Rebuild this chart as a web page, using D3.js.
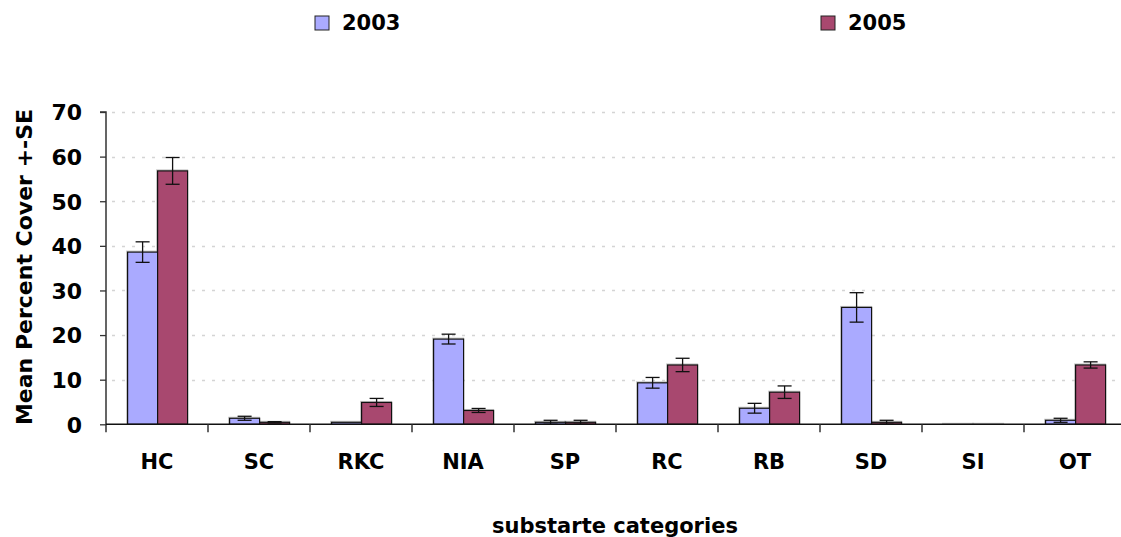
<!DOCTYPE html>
<html>
<head>
<meta charset="utf-8">
<script src="https://cdn.jsdelivr.net/npm/d3@7"></script>
<style>
  html, body { margin: 0; padding: 0; background: #fff; }
  svg { display: block; }
  text { font-family: "DejaVu Sans", sans-serif; font-weight: bold; fill: #000; }
</style>
</head>
<body>
<svg id="chart" width="1121" height="537"></svg>
<script>
// Substrate categories and mean percent cover (+/- SE) per survey year
const categories = ["HC", "SC", "RKC", "NIA", "SP", "RC", "RB", "SD", "SI", "OT"];
const years = ["2003", "2005"];
const mean2003 = [38.6, 1.35, 0.45, 19.1, 0.45, 9.3, 3.6, 26.2, 0, 0.9];
const se2003   = [2.3, 0.45, 0, 1.1, 0.45, 1.2, 1.1, 3.3, 0, 0.45];
const mean2005 = [56.8, 0.45, 4.9, 3.1, 0.45, 13.3, 7.2, 0.45, 0, 13.3];
const se2005   = [3.0, 0.15, 0.9, 0.45, 0.45, 1.5, 1.4, 0.45, 0, 0.7];
const yTicks = [0, 10, 20, 30, 40, 50, 60, 70];
const colors = { "2003": "#AAAAFF", "2005": "#A8486F" };

const svg = d3.select("#chart");

const plot = { left: 106, right: 1126, top: 112, bottom: 424.3 };

const x = d3.scaleBand().domain(categories).range([plot.left, plot.right]).padding(0);
const xInner = d3.scaleBand().domain(years).range([21.6, 81.6]).padding(0);
const y = d3.scaleLinear().domain([0, 70]).range([plot.bottom, plot.top]);

// dotted horizontal gridlines
svg.append("g")
  .selectAll("line")
  .data(yTicks.filter(d => d > 0))
  .join("line")
  .attr("x1", plot.left + 6)
  .attr("x2", 1121)
  .attr("y1", d => Math.round(y(d)) + 0.5)
  .attr("y2", d => Math.round(y(d)) + 0.5)
  .attr("stroke", "#d4d4d4")
  .attr("stroke-width", 1.3)
  .attr("stroke-dasharray", "3,7");

// table of bars built from the arrays
const rows = [];
categories.forEach((c, i) => {
  rows.push({ cat: c, year: "2003", v: mean2003[i], se: se2003[i] });
  rows.push({ cat: c, year: "2005", v: mean2005[i], se: se2005[i] });
});

const bars = svg.append("g");
// soft drop shadow behind each bar
bars.selectAll("rect.shadow")
  .data(rows)
  .join("rect")
  .attr("class", "shadow")
  .attr("x", d => x(d.cat) + xInner(d.year) - 1)
  .attr("y", d => y(d.v) - 1)
  .attr("width", xInner.bandwidth() + 1)
  .attr("height", d => plot.bottom - y(d.v) + 1)
  .attr("fill", "none")
  .attr("stroke", "#999")
  .attr("stroke-width", 1)
  .attr("opacity", 0.6);

bars.selectAll("rect.bar")
  .data(rows)
  .join("rect")
  .attr("class", "bar")
  .attr("x", d => x(d.cat) + xInner(d.year))
  .attr("y", d => y(d.v))
  .attr("width", xInner.bandwidth())
  .attr("height", d => plot.bottom - y(d.v))
  .attr("fill", d => colors[d.year])
  .attr("stroke", "#111")
  .attr("stroke-width", 1.2);

// error bars
const err = svg.append("g").attr("stroke", "#111").attr("stroke-width", 1.3);
const withErr = rows.filter(d => d.se > 0);
const cx = d => x(d.cat) + xInner(d.year) + xInner.bandwidth() / 2;
err.selectAll("line.v")
  .data(withErr)
  .join("line")
  .attr("x1", cx).attr("x2", cx)
  .attr("y1", d => y(d.v + d.se))
  .attr("y2", d => y(d.v - d.se));
err.selectAll("line.top")
  .data(withErr)
  .join("line")
  .attr("x1", d => cx(d) - 7).attr("x2", d => cx(d) + 7)
  .attr("y1", d => y(d.v + d.se)).attr("y2", d => y(d.v + d.se));
err.selectAll("line.bot")
  .data(withErr)
  .join("line")
  .attr("x1", d => cx(d) - 7).attr("x2", d => cx(d) + 7)
  .attr("y1", d => y(Math.max(0, d.v - d.se))).attr("y2", d => y(Math.max(0, d.v - d.se)));

// y axis
const yAxis = d3.axisLeft(y).tickValues(yTicks).tickSize(6).tickPadding(18);
const gy = svg.append("g")
  .attr("transform", `translate(${plot.left},0)`)
  .call(yAxis);
gy.select(".domain").attr("stroke", "#333").attr("stroke-width", 1.5)
  .attr("d", `M-6,${plot.top}H0V${plot.bottom + 8}`);
gy.selectAll(".tick line").attr("stroke", "#333").attr("stroke-width", 1.3);
gy.selectAll(".tick text")
  .style("font-size", "22px")
  .attr("dy", "0.36em");

// x axis with ticks between categories
const gx = svg.append("g")
  .attr("transform", `translate(0,${plot.bottom})`)
  .call(d3.axisBottom(x).tickSize(0).tickPadding(30));
gx.select(".domain").attr("stroke", "#111").attr("stroke-width", 1.6)
  .attr("d", `M${plot.left},0H1121`);
gx.selectAll(".tick text").style("font-size", "21px");
svg.append("g")
  .selectAll("line")
  .data(categories.slice(1))
  .join("line")
  .attr("x1", d => x(d)).attr("x2", d => x(d))
  .attr("y1", plot.bottom).attr("y2", plot.bottom + 8)
  .attr("stroke", "#333").attr("stroke-width", 1.5);

// axis titles
svg.append("text")
  .attr("transform", "translate(32,267) rotate(-90)")
  .attr("text-anchor", "middle")
  .style("font-size", "22px")
  .text("Mean Percent Cover +-SE");

svg.append("text")
  .attr("x", 615)
  .attr("y", 533)
  .attr("text-anchor", "middle")
  .style("font-size", "21px")
  .text("substarte categories");

// legend
const legendPos = [{ year: "2003", x: 315 }, { year: "2005", x: 821 }];
const lg = svg.append("g").selectAll("g").data(legendPos).join("g")
  .attr("transform", d => `translate(${d.x},16)`);
lg.append("rect")
  .attr("width", 14).attr("height", 14)
  .attr("fill", d => colors[d.year])
  .attr("stroke", "#222").attr("stroke-width", 1);
lg.append("text")
  .attr("x", 27).attr("y", 14)
  .style("font-size", "21px")
  .text(d => d.year);
</script>
</body>
</html>
